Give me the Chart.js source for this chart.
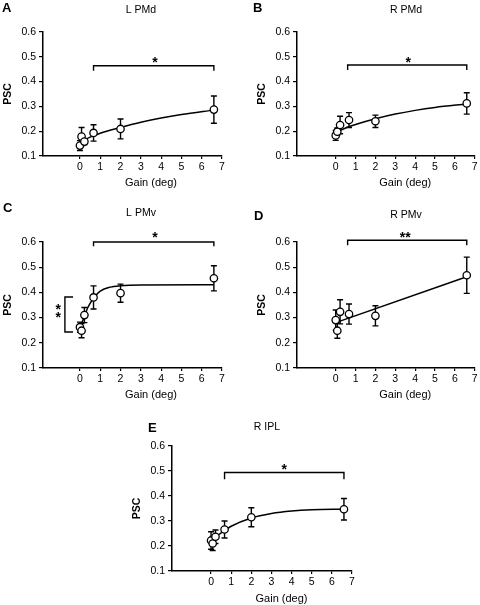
<!DOCTYPE html>
<html>
<head>
<meta charset="utf-8">
<script src="https://cdn.jsdelivr.net/npm/chart.js@4"></script>
<style>
html,body{margin:0;background:#fff;}
#fig{position:relative;width:480px;height:605px;overflow:hidden;}
canvas{position:absolute;}
</style>
</head>
<body>
<div id="fig">
  <canvas id="pA" width="240" height="200" style="left:0;top:0"></canvas>
  <canvas id="pB" width="240" height="200" style="left:240px;top:0"></canvas>
  <canvas id="pC" width="240" height="205" style="left:0;top:200px"></canvas>
  <canvas id="pD" width="240" height="205" style="left:240px;top:200px"></canvas>
  <canvas id="pE" width="240" height="205" style="left:120px;top:400px"></canvas>
</div>
<script>
const gain = [0, 0.08, 0.22, 0.67, 2, 6.6];
const xTicks = [0, 1, 2, 3, 4, 5, 6, 7];
const yTicks = [0.1, 0.2, 0.3, 0.4, 0.5, 0.6];

// L PMd
const pscA = [0.142, 0.178, 0.158, 0.193, 0.209, 0.287];
const errA = [0.02, 0.037, 0.012, 0.033, 0.04, 0.055];
const fitXA = [0, 0.5, 1, 2, 3, 4, 5, 6.6];
const fitYA = [0.155, 0.176, 0.192, 0.215, 0.236, 0.253, 0.267, 0.285];
// R PMd
const pscB = [0.183, 0.198, 0.225, 0.245, 0.24, 0.312];
const errB = [0.02, 0.015, 0.035, 0.03, 0.025, 0.043];
const fitXB = [0, 0.5, 1, 2, 3, 4, 5, 6.6];
const fitYB = [0.195, 0.213, 0.227, 0.25, 0.269, 0.284, 0.296, 0.31];
// L PMv
const pscC = [0.262, 0.248, 0.31, 0.38, 0.397, 0.456];
const errC = [0.02, 0.028, 0.03, 0.046, 0.036, 0.05];
const fitXC = [0, 0.2, 0.4, 0.7, 1, 1.5, 2, 3, 6.6];
const fitYC = [0.262, 0.3, 0.342, 0.38, 0.405, 0.421, 0.426, 0.429, 0.43];
// R PMv
const pscD = [0.29, 0.248, 0.323, 0.314, 0.307, 0.468];
const errD = [0.04, 0.03, 0.048, 0.04, 0.04, 0.072];
const fitXD = [0, 6.6];
const fitYD = [0.28, 0.462];
// R IPL
const pscE = [0.222, 0.21, 0.237, 0.266, 0.315, 0.347];
const errE = [0.035, 0.028, 0.027, 0.034, 0.038, 0.043];
const fitXE = [0, 0.3, 0.67, 1, 2, 3, 4, 5, 6.6];
const fitYE = [0.215, 0.24, 0.262, 0.279, 0.312, 0.33, 0.34, 0.345, 0.347];

// significance brackets
const brXA = [0.67, 0.67, 6.6, 6.6], brYA = [0.444, 0.464, 0.464, 0.444];
const brXB = [0.6, 0.6, 6.6, 6.6],   brYB = [0.447, 0.467, 0.467, 0.447];
const brXC = [0.67, 0.67, 6.6, 6.6], brYC = [0.583, 0.6, 0.6, 0.583];
const sideXC = [-0.34, -0.74, -0.74, -0.34], sideYC = [0.382, 0.382, 0.243, 0.243];
const brXD = [0.6, 0.6, 6.6, 6.6],   brYD = [0.587, 0.607, 0.607, 0.587];
const brXE = [0.67, 0.67, 6.6, 6.6], brYE = [0.467, 0.494, 0.494, 0.467];

const starsA = [{x: 3.7, y: 0.49, t: '*'}];
const starsB = [{x: 3.65, y: 0.49, t: '*'}];
const starsC = [{x: 3.7, y: 0.628, t: '*'}, {x: -1.07, y: 0.343, t: '*'}, {x: -1.07, y: 0.313, t: '*'}];
const starsD = [{x: 3.5, y: 0.631, t: '**'}];
const starsE = [{x: 3.64, y: 0.517, t: '*'}];

const FONT = '"Liberation Sans", Arial, sans-serif';
const INK = '#000';
Chart.defaults.font.family = FONT;
Chart.defaults.color = INK;

const pts = (xs, ys) => xs.map((v, i) => ({x: v, y: ys[i]}));

const panels = {
  pA: {letter: 'A', lx: 2, ly: 12, title: 'L PMd', tx: 141, ty: 10, gy: 183, area: [43, 32, 222, 156], xMin: -1.82,
       psc: pscA, err: errA, fits: [[fitXA, fitYA]], brackets: [[brXA, brYA]], stars: starsA},
  pB: {letter: 'B', lx: 13, ly: 12, title: 'R PMd', tx: 166, ty: 10, gy: 183, area: [57, 32, 236, 156], xMin: -1.95,
       psc: pscB, err: errB, fits: [[fitXB, fitYB]], brackets: [[brXB, brYB]], stars: starsB},
  pC: {letter: 'C', lx: 3, ly: 12, title: 'L PMv', tx: 141, ty: 13, gy: 195, area: [43, 42, 222, 168], xMin: -1.82,
       psc: pscC, err: errC, fits: [[fitXC, fitYC]], brackets: [[brXC, brYC], [sideXC, sideYC]], stars: starsC},
  pD: {letter: 'D', lx: 14, ly: 20, title: 'R PMv', tx: 166, ty: 15, gy: 195, area: [57, 42, 236, 168], xMin: -1.95,
       psc: pscD, err: errD, fits: [[fitXD, fitYD]], brackets: [[brXD, brYD]], stars: starsD},
  pE: {letter: 'E', lx: 28, ly: 32, title: 'R IPL', tx: 147, ty: 27, gy: 199, area: [52, 46, 232, 171], xMin: -1.94,
       psc: pscE, err: errE, fits: [[fitXE, fitYE]], brackets: [[brXE, brYE]], stars: starsE}
};

const errorBars = {
  id: 'errorBars',
  beforeDatasetsDraw(chart) {
    const p = panels[chart.canvas.id];
    const {ctx, scales: {x, y}} = chart;
    ctx.save();
    ctx.strokeStyle = INK;
    ctx.lineWidth = 1.4;
    gain.forEach((g, i) => {
      const px = x.getPixelForValue(g);
      const hi = y.getPixelForValue(p.psc[i] + p.err[i]);
      const lo = y.getPixelForValue(p.psc[i] - p.err[i]);
      ctx.beginPath();
      ctx.moveTo(px, hi); ctx.lineTo(px, lo);
      ctx.moveTo(px - 3, hi); ctx.lineTo(px + 3, hi);
      ctx.moveTo(px - 3, lo); ctx.lineTo(px + 3, lo);
      ctx.stroke();
    });
    ctx.restore();
  }
};

const panelText = {
  id: 'panelText',
  afterDraw(chart) {
    const p = panels[chart.canvas.id];
    const {ctx, scales: {x, y}, chartArea: a} = chart;
    ctx.save();
    ctx.fillStyle = INK;
    ctx.font = 'bold 13px ' + FONT;
    ctx.textAlign = 'left';
    ctx.textBaseline = 'alphabetic';
    ctx.fillText(p.letter, p.lx, p.ly);
    ctx.textAlign = 'center';
    ctx.textBaseline = 'middle';
    ctx.font = '10.5px ' + FONT;
    ctx.fillText(p.title, p.tx, p.ty);
    ctx.font = '11px ' + FONT;
    ctx.fillText('Gain (deg)', (x.getPixelForValue(0) + x.getPixelForValue(7)) / 2, p.gy);
    ctx.save();
    ctx.translate(a.left - 35, (a.top + a.bottom) / 2);
    ctx.rotate(-Math.PI / 2);
    ctx.font = 'bold 10.5px ' + FONT;
    ctx.fillText('PSC', 0, 0);
    ctx.restore();
    ctx.font = 'bold 14px ' + FONT;
    ctx.textBaseline = 'alphabetic';
    p.stars.forEach(s => ctx.fillText(s.t, x.getPixelForValue(s.x), y.getPixelForValue(s.y) + 7.5));
    ctx.restore();
  }
};

function makePanel(id) {
  const p = panels[id];
  const cv = document.getElementById(id);
  const [l, t, r, b] = p.area;
  const datasets = [{
    data: pts(gain, p.psc),
    showLine: false,
    pointRadius: 3.7,
    pointBorderWidth: 1.3,
    pointBackgroundColor: '#fff',
    pointBorderColor: INK
  }];
  p.fits.forEach(([fx, fy]) => datasets.push({
    data: pts(fx, fy), showLine: true, pointRadius: 0, borderColor: INK,
    borderWidth: 1.5, cubicInterpolationMode: 'monotone'
  }));
  p.brackets.forEach(([bx, by]) => datasets.push({
    data: pts(bx, by), showLine: true, pointRadius: 0, borderColor: INK,
    borderWidth: 1.4, tension: 0, clip: false
  }));
  new Chart(cv, {
    type: 'scatter',
    data: {datasets},
    options: {
      responsive: false,
      animation: false,
      devicePixelRatio: 1,
      events: [],
      layout: {padding: {left: 0, top: t, right: cv.width - r, bottom: 0}},
      plugins: {legend: {display: false}, tooltip: {enabled: false}},
      scales: {
        x: {
          type: 'linear', min: p.xMin, max: 7,
          afterBuildTicks: s => { s.ticks = xTicks.map(v => ({value: v})); },
          afterFit: s => { s.height = cv.height - b; },
          ticks: {font: {size: 10.5}, color: INK, padding: 2, maxRotation: 0},
          grid: {drawOnChartArea: false, tickLength: 3, color: INK, lineWidth: 1.2},
          border: {color: INK, width: 1.5}
        },
        y: {
          type: 'linear', min: 0.1, max: 0.6,
          afterBuildTicks: s => { s.ticks = yTicks.map(v => ({value: v})); },
          afterFit: s => { s.width = l; },
          ticks: {font: {size: 10.5}, color: INK, padding: 3, callback: v => v.toFixed(1)},
          grid: {drawOnChartArea: false, tickLength: 4, color: INK, lineWidth: 1.2},
          border: {color: INK, width: 1.5}
        }
      }
    },
    plugins: [errorBars, panelText]
  });
}

Object.keys(panels).forEach(makePanel);
</script>
</body>
</html>
